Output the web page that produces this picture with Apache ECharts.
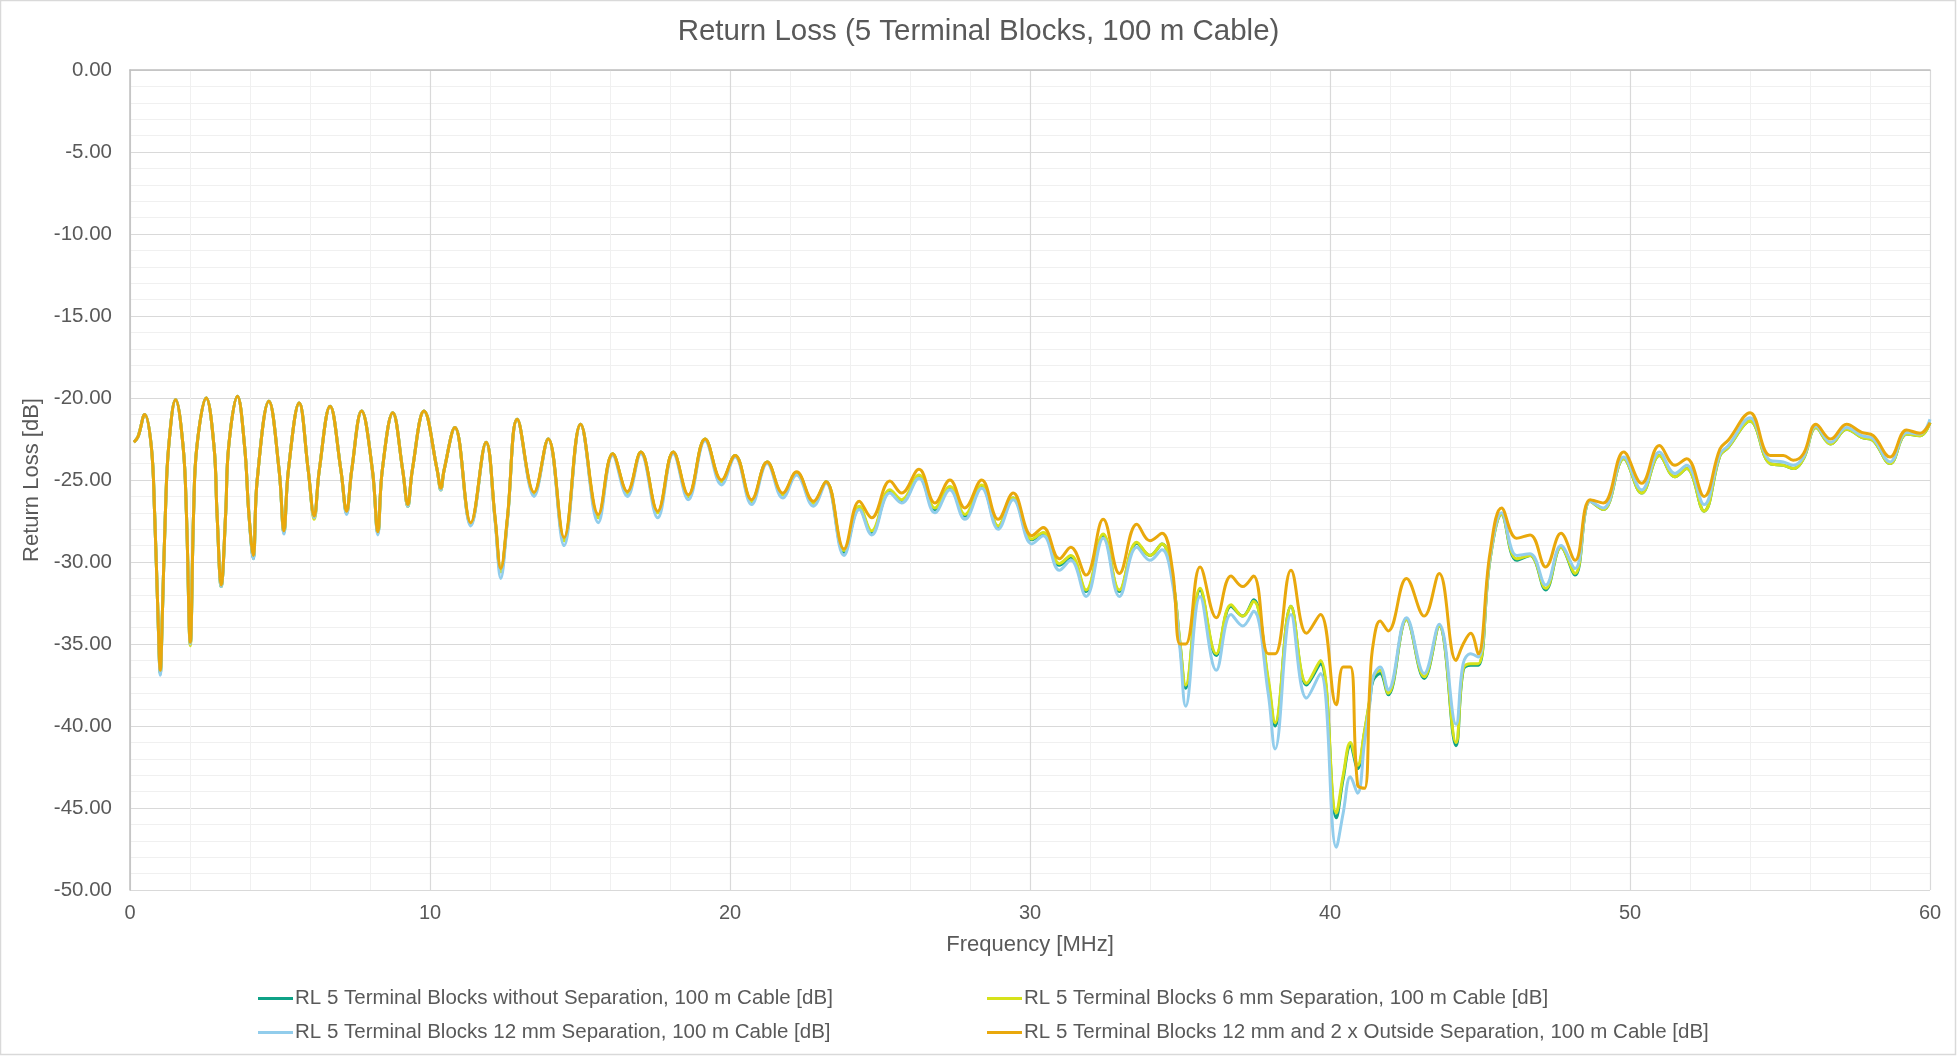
<!DOCTYPE html>
<html>
<head>
<meta charset="utf-8">
<title>Return Loss (5 Terminal Blocks, 100 m Cable)</title>
<script src="https://cdn.jsdelivr.net/npm/echarts@6/dist/echarts.min.js"></script>
<style>
  html, body { margin: 0; padding: 0; background: #ffffff; }
  #chart { width: 1957px; height: 1058px; }
</style>
</head>
<body>
<div id="chart"></div>
<script>
// Frequency points [MHz] shared by all four measurements
const freq = [
  0.13, 0.27, 0.49, 0.71, 0.82, 0.93, 1.01, 1.08, 1.18, 1.29,
  1.52, 1.77, 1.88, 2.01, 2.12, 2.23, 2.54, 2.80, 2.90, 3.04,
  3.19, 3.29, 3.58, 3.82, 3.96, 4.11, 4.24, 4.63, 4.97, 5.13,
  5.28, 5.64, 5.94, 6.14, 6.31, 6.67, 7.03, 7.22, 7.39, 7.72,
  8.08, 8.26, 8.41, 8.76, 9.09, 9.26, 9.41, 9.80, 10.24, 10.36,
  10.47, 10.83, 11.36, 11.87, 12.17, 12.36, 12.58, 12.91, 13.47, 13.94,
  14.47, 15.02, 15.61, 16.09, 16.58, 17.03, 17.59, 18.11, 18.61, 19.17,
  19.72, 20.17, 20.72, 21.24, 21.76, 22.22, 22.78, 23.20, 23.80, 24.31,
  24.72, 25.33, 25.72, 26.30, 26.83, 27.33, 27.83, 28.39, 28.94, 29.44,
  30.06, 30.44, 30.98, 31.36, 31.87, 32.44, 32.98, 33.56, 34.00, 34.40,
  34.75, 35.00, 35.19, 35.67, 36.21, 36.70, 37.09, 37.45, 37.94, 38.17,
  38.70, 39.22, 39.68, 40.21, 40.44, 40.68, 40.92, 41.15, 41.33, 41.44,
  41.67, 41.94, 42.55, 43.14, 43.64, 44.20, 44.44, 44.69, 44.94, 45.33,
  45.72, 46.22, 46.67, 47.19, 47.70, 48.17, 48.67, 49.11, 49.79, 50.39,
  50.98, 51.50, 51.89, 52.47, 53.00, 53.28, 54.00, 54.67, 55.11, 55.44,
  55.78, 56.20, 56.69, 57.22, 57.72, 58.11, 58.67, 59.22, 59.67, 60.00
];

// RL 5 Terminal Blocks without Separation [dB]
const rlNoSep = [
  -22.7, -22.35, -21.0, -22.95, -27.0, -33.1, -36.8, -33.1, -27.0, -22.95,
  -20.1, -22.95, -27.0, -35.0, -27.0, -22.95, -20.0, -22.95, -27.0, -31.5,
  -27.0, -22.95, -19.9, -22.95, -27.0, -29.8, -25.0, -20.2, -24.4, -28.2,
  -24.4, -20.3, -24.4, -27.3, -24.4, -20.5, -24.4, -27.0, -24.4, -20.8,
  -24.4, -28.25, -24.4, -20.9, -24.4, -26.6, -24.4, -20.8, -24.4, -25.6,
  -24.4, -21.8, -27.7, -22.7, -27.4, -30.6, -27.4, -21.3, -25.85, -22.5,
  -28.7, -21.6, -27.3, -23.4, -25.8, -23.3, -27.0, -23.3, -26.0, -22.5,
  -25.1, -23.5, -26.3, -23.9, -25.9, -24.55, -26.4, -25.1, -29.4, -26.7,
  -28.2, -25.7, -26.3, -24.8, -26.8, -25.5, -27.2, -25.4, -27.85, -26.1,
  -28.65, -28.25, -30.2, -29.7, -31.8, -28.35, -31.8, -28.85, -29.6, -28.9,
  -31.0, -35.0, -37.7, -31.7, -35.7, -32.7, -33.3, -32.3, -37.3, -40.0,
  -32.7, -37.5, -36.2, -45.6, -43.2, -41.2, -42.6, -40.4, -38.4, -37.2,
  -36.8, -38.1, -33.5, -37.1, -33.9, -41.2, -36.6, -36.3, -36.3, -29.9,
  -27.1, -29.9, -29.6, -31.7, -29.1, -30.8, -26.3, -26.8, -23.7, -25.8,
  -23.5, -24.8, -24.3, -26.9, -23.5, -23.0, -21.4, -24.0, -24.1, -24.3,
  -23.7, -21.8, -22.8, -21.9, -22.4, -22.6, -24.0, -22.2, -22.3, -21.5
];

// RL 5 Terminal Blocks 6 mm Separation [dB]
const rl6mm = [
  -22.7, -22.35, -21.0, -22.95, -27.0, -33.1, -36.7, -33.1, -27.0, -22.95,
  -20.1, -22.95, -27.0, -35.1, -27.0, -22.95, -20.0, -22.95, -27.0, -31.5,
  -27.0, -22.95, -19.9, -22.95, -27.0, -29.7, -25.0, -20.2, -24.4, -28.2,
  -24.4, -20.3, -24.4, -27.4, -24.4, -20.5, -24.4, -27.0, -24.4, -20.8,
  -24.4, -28.25, -24.4, -20.9, -24.4, -26.6, -24.4, -20.8, -24.4, -25.6,
  -24.4, -21.8, -27.7, -22.7, -27.4, -30.6, -27.4, -21.3, -25.85, -22.5,
  -28.7, -21.6, -27.3, -23.4, -25.8, -23.3, -27.0, -23.3, -26.0, -22.5,
  -25.1, -23.5, -26.3, -23.9, -25.9, -24.55, -26.4, -25.1, -29.3, -26.6,
  -28.1, -25.6, -26.2, -24.7, -26.7, -25.4, -27.1, -25.3, -27.8, -26.1,
  -28.6, -28.2, -30.1, -29.6, -31.7, -28.3, -31.7, -28.8, -29.6, -28.9,
  -31.0, -34.9, -37.5, -31.6, -35.6, -32.6, -33.3, -32.4, -37.1, -39.8,
  -32.7, -37.4, -36.0, -45.3, -43.0, -41.0, -42.4, -40.3, -38.3, -37.0,
  -36.6, -38.0, -33.5, -37.0, -33.9, -41.0, -36.5, -36.2, -36.2, -29.9,
  -27.1, -29.8, -29.6, -31.6, -29.1, -30.7, -26.3, -26.8, -23.7, -25.8,
  -23.5, -24.8, -24.3, -26.9, -23.5, -23.0, -21.4, -24.0, -24.1, -24.3,
  -23.7, -21.8, -22.8, -21.9, -22.4, -22.6, -24.0, -22.2, -22.3, -21.5
];

// RL 5 Terminal Blocks 12 mm Separation [dB]
const rl12mm = [
  -22.7, -22.35, -21.0, -22.95, -27.0, -33.1, -36.9, -33.1, -27.0, -22.95,
  -20.1, -22.95, -27.0, -35.0, -27.0, -22.95, -20.0, -22.95, -27.0, -31.5,
  -27.0, -22.95, -19.9, -22.95, -27.0, -29.8, -25.0, -20.2, -24.4, -28.3,
  -24.4, -20.3, -24.4, -27.3, -24.4, -20.5, -24.4, -27.1, -24.4, -20.8,
  -24.4, -28.35, -24.4, -20.9, -24.4, -26.6, -24.4, -20.8, -24.4, -25.6,
  -24.4, -21.8, -27.8, -22.7, -27.5, -31.0, -27.5, -21.3, -26.0, -22.5,
  -29.0, -21.6, -27.6, -23.5, -26.0, -23.4, -27.3, -23.4, -26.2, -22.6,
  -25.3, -23.6, -26.5, -24.0, -26.1, -24.7, -26.6, -25.2, -29.6, -26.8,
  -28.35, -25.8, -26.4, -24.9, -27.0, -25.6, -27.4, -25.5, -28.0, -26.2,
  -28.9, -28.4, -30.5, -29.9, -32.1, -28.55, -32.1, -29.1, -29.9, -29.25,
  -31.3, -35.3, -38.8, -32.1, -36.6, -33.2, -33.9, -33.0, -38.0, -41.4,
  -33.2, -38.3, -36.8, -47.4, -45.3, -43.1, -44.1, -41.0, -38.6, -37.0,
  -36.4, -37.8, -33.4, -36.8, -33.8, -39.9, -36.2, -35.6, -35.8, -29.8,
  -27.0, -29.6, -29.5, -31.4, -29.0, -30.4, -26.3, -26.7, -23.6, -25.6,
  -23.3, -24.6, -24.1, -26.5, -23.4, -22.9, -21.2, -23.8, -23.9, -24.1,
  -23.6, -21.7, -22.7, -21.8, -22.3, -22.5, -23.9, -22.1, -22.2, -21.3
];

// RL 5 Terminal Blocks 12 mm and 2 x Outside Separation [dB]
const rl12mmOut = [
  -22.7, -22.35, -21.0, -22.95, -27.0, -33.1, -36.6, -33.1, -27.0, -22.95,
  -20.1, -22.95, -27.0, -34.9, -27.0, -22.95, -20.0, -22.95, -27.0, -31.4,
  -27.0, -22.95, -19.9, -22.95, -27.0, -29.6, -25.0, -20.2, -24.4, -28.1,
  -24.4, -20.3, -24.4, -27.2, -24.4, -20.5, -24.4, -26.9, -24.4, -20.8,
  -24.4, -28.15, -24.4, -20.9, -24.4, -26.5, -24.4, -20.8, -24.4, -25.5,
  -24.4, -21.8, -27.6, -22.7, -27.3, -30.4, -27.3, -21.3, -25.75, -22.5,
  -28.5, -21.6, -27.1, -23.4, -25.7, -23.3, -26.9, -23.3, -25.9, -22.5,
  -25.0, -23.5, -26.2, -23.9, -25.8, -24.5, -26.3, -25.1, -29.2, -26.3,
  -27.3, -25.06, -25.8, -24.35, -26.4, -25.0, -26.7, -25.0, -27.4, -25.8,
  -28.4, -27.9, -29.8, -29.1, -30.8, -27.4, -30.7, -27.7, -28.7, -28.25,
  -30.5, -35.0, -35.0, -30.3, -33.4, -30.85, -31.5, -30.85, -35.6, -35.6,
  -30.5, -34.35, -33.2, -38.7, -36.4, -36.4, -43.6, -43.8, -37.4, -35.0,
  -33.6, -34.2, -31.0, -33.3, -30.7, -36.0, -35.0, -34.35, -35.6, -29.5,
  -26.7, -28.55, -28.35, -30.3, -28.25, -29.9, -26.2, -26.4, -23.3, -25.2,
  -22.9, -24.1, -23.7, -26.0, -23.1, -22.56, -20.9, -23.5, -23.5, -23.8,
  -23.4, -21.6, -22.5, -21.6, -22.1, -22.3, -23.6, -21.95, -22.15, -21.5
];

const seriesNames = [
  'RL 5 Terminal Blocks without Separation, 100 m Cable [dB]',
  'RL 5 Terminal Blocks 6 mm Separation, 100 m Cable [dB]',
  'RL 5 Terminal Blocks 12 mm Separation, 100 m Cable [dB]',
  'RL 5 Terminal Blocks 12 mm and 2 x Outside Separation, 100 m Cable [dB]'
];
const seriesColors = ['#0fa287', '#d6e21a', '#92cdec', '#e9a80c'];
const seriesValues = [rlNoSep, rl6mm, rl12mm, rl12mmOut];

// Axis ranges and tick steps
const xTicks = [0, 10, 20, 30, 40, 50, 60];
const yTicks = [0, -5, -10, -15, -20, -25, -30, -35, -40, -45, -50];

const textColor = '#595959';
const fontFamily = '"Liberation Sans", Arial, sans-serif';

const chart = echarts.init(document.getElementById('chart'), null, { renderer: 'canvas' });

const series = seriesValues.map((vals, k) => ({
  name: seriesNames[k],
  type: 'line',
  data: freq.map((f, i) => [f, vals[i]]),
  showSymbol: false,
  symbol: 'none',
  smooth: 0.4,
  lineStyle: { width: 3, color: seriesColors[k] },
  itemStyle: { color: seriesColors[k] },
  z: 2 + k,
  animation: false
}));

const legendCommon = {
  orient: 'vertical',
  top: 983,
  itemGap: 13,
  itemWidth: 35,
  itemHeight: 3,
  icon: 'rect',
  textStyle: { fontSize: 20.5, color: textColor, fontFamily: fontFamily, padding: [0, 0, 0, -3] }
};

chart.setOption({
  animation: false,
  backgroundColor: '#ffffff',
  title: {
    text: 'Return Loss (5 Terminal Blocks, 100 m Cable)',
    left: 'center',
    top: 12,
    textStyle: { fontSize: 29.5, fontWeight: 'normal', color: textColor, fontFamily: fontFamily }
  },
  graphic: [{
    type: 'rect',
    shape: { x: 0.5, y: 0.5, width: 1955, height: 1054 },
    style: { fill: 'none', stroke: '#d9d9d9', lineWidth: 1.5 },
    silent: true
  }],
  grid: { left: 130, right: 27, top: 70, bottom: 168, containLabel: false },
  xAxis: {
    type: 'value',
    min: xTicks[0],
    max: xTicks[xTicks.length - 1],
    interval: xTicks[1] - xTicks[0],
    name: 'Frequency [MHz]',
    nameLocation: 'middle',
    nameGap: 44,
    nameTextStyle: { fontSize: 22, color: textColor, fontFamily: fontFamily },
    axisLine: { show: true, lineStyle: { color: '#bfbfbf', width: 1.5 } },
    axisTick: { show: false },
    axisLabel: { fontSize: 20, color: textColor, fontFamily: fontFamily, margin: 13 },
    splitLine: { show: true, lineStyle: { color: '#d9d9d9', width: 1.2 } },
    minorTick: { show: false, splitNumber: 5 },
    minorSplitLine: { show: true, lineStyle: { color: '#f0f0f0', width: 1 } }
  },
  yAxis: {
    type: 'value',
    min: yTicks[yTicks.length - 1],
    max: yTicks[0],
    interval: yTicks[0] - yTicks[1],
    name: 'Return Loss [dB]',
    nameLocation: 'middle',
    nameRotate: 90,
    nameGap: 83,
    nameTextStyle: { fontSize: 22, color: textColor, fontFamily: fontFamily },
    axisLine: { show: true, lineStyle: { color: '#bfbfbf', width: 1.5 } },
    axisTick: { show: false },
    axisLabel: {
      fontSize: 20.5, color: textColor, fontFamily: fontFamily, margin: 18,
      formatter: v => v.toFixed(2)
    },
    splitLine: { show: true, lineStyle: { color: '#d9d9d9', width: 1.2 } },
    minorTick: { show: false, splitNumber: 5 },
    minorSplitLine: { show: true, lineStyle: { color: '#f0f0f0', width: 1 } }
  },
  legend: [
    Object.assign({}, legendCommon, { left: 253, data: [seriesNames[0], seriesNames[2]] }),
    Object.assign({}, legendCommon, { left: 982, data: [seriesNames[1], seriesNames[3]] })
  ],
  series: series
});
</script>
</body>
</html>
